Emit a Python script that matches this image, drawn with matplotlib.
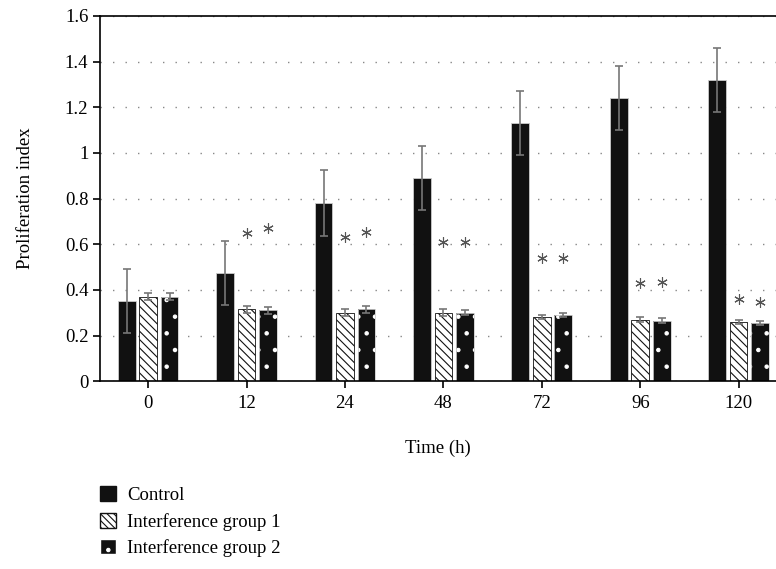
import numpy as np
import matplotlib
matplotlib.use("Agg")
import matplotlib.pyplot as plt
from matplotlib.patches import Patch

plt.rcParams['font.family'] = ['Liberation Serif', 'DejaVu Serif']
plt.rcParams['hatch.linewidth'] = 0.8

times = ["0", "12", "24", "48", "72", "96", "120"]
control = [0.35, 0.475, 0.78, 0.89, 1.13, 1.24, 1.32]
control_err = [0.14, 0.14, 0.145, 0.14, 0.14, 0.14, 0.14]
ig1 = [0.37, 0.315, 0.30, 0.30, 0.28, 0.27, 0.26]
ig1_err = [0.015, 0.015, 0.015, 0.015, 0.008, 0.012, 0.01]
ig2 = [0.37, 0.31, 0.315, 0.30, 0.29, 0.265, 0.255]
ig2_err = [0.015, 0.015, 0.015, 0.01, 0.01, 0.012, 0.01]
# asterisk heights above the two interference bars (none at 0 h)
star1_y = [np.nan, 0.65, 0.63, 0.61, 0.54, 0.43, 0.36]
star2_y = [np.nan, 0.67, 0.655, 0.61, 0.54, 0.435, 0.345]

x = np.arange(len(times))
w = 0.18
off = 0.218

fig = plt.figure(figsize=(7.76, 5.69), dpi=100)
ax = fig.add_axes([0.129, 0.33, 0.871, 0.642])

ax.set_axisbelow(True)
ax.yaxis.grid(True, color="#888888", linestyle=(0, (1, 8)), linewidth=1.0)

ekw = dict(ecolor="#777777", elinewidth=1.2, capsize=3.2, capthick=1.2)
ax.bar(x - off, control, w, color="#111111", edgecolor="#cccccc", linewidth=0.6,
       yerr=control_err, error_kw=ekw)
ax.bar(x, ig1, w, color="white", edgecolor="#111111", hatch="\\\\\\\\", linewidth=0.6,
       yerr=ig1_err, error_kw=ekw)
# dotted bars: black fill with white dots, then an outline
ax.bar(x + off, ig2, w, color="#111111", edgecolor="white", hatch=".", linewidth=0)
ax.bar(x + off, ig2, w, fill=False, edgecolor="#cccccc", linewidth=0.6,
       yerr=ig2_err, error_kw=ekw)

ax.plot(x, star1_y, linestyle="none", marker=(6, 2, 0), markersize=7.5,
        color="#555555", markeredgewidth=0.8)
ax.plot(x + off, star2_y, linestyle="none", marker=(6, 2, 0), markersize=7.5,
        color="#555555", markeredgewidth=0.8)

ax.set_xlim(-0.488, 6.38)
ax.set_ylim(0, 1.6)
ax.set_yticks(np.arange(0, 1.61, 0.2))
ax.set_yticklabels(["0", "0.2", "0.4", "0.6", "0.8", "1", "1.2", "1.4", "1.6"])
ax.set_xticks(x)
ax.set_xticklabels(times)
ax.tick_params(labelsize=13.5, length=5, width=1.2)
ax.tick_params(axis="x", pad=5)
for s in ["left", "bottom", "top"]:
    ax.spines[s].set_linewidth(1.2)
ax.spines["right"].set_visible(False)
ax.set_ylabel("Proliferation index", fontsize=13.5, labelpad=22)
ax.set_xlabel("Time (h)", fontsize=13.5, labelpad=20)

handles = [Patch(facecolor="#111111", edgecolor="#111111", label="Control"),
           Patch(facecolor="white", edgecolor="#111111", hatch="\\\\\\\\\\", label="Interference group 1"),
           Patch(facecolor="#111111", edgecolor="white", hatch=".", label="Interference group 2")]
fig.legend(handles=handles, loc="upper left", bbox_to_anchor=(0.129, 0.145), frameon=False,
           fontsize=13.5, handlelength=0.85, handleheight=0.85, handletextpad=0.6, labelspacing=0.45,
           borderaxespad=0, borderpad=0)

plt.savefig("out.png", dpi=100)
